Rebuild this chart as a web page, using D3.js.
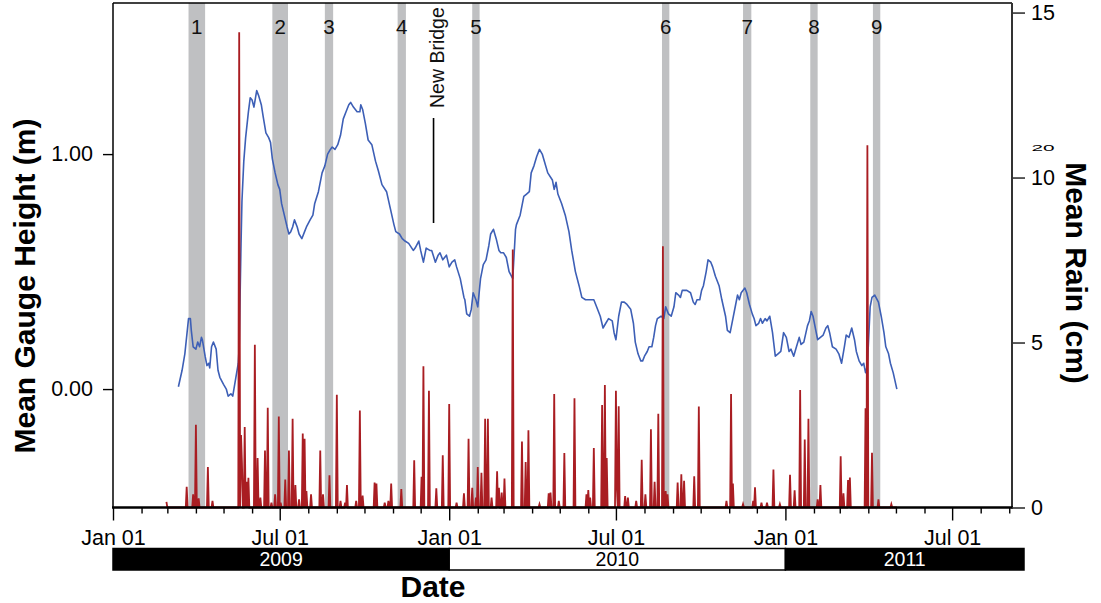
<!DOCTYPE html>
<html><head><meta charset="utf-8">
<script src="https://cdn.jsdelivr.net/npm/d3@7"></script>
<style>body{margin:0;background:#fff}svg{display:block}text{font-family:"Liberation Sans",Arial,Helvetica,sans-serif}</style>
</head><body><svg id="c" width="1101" height="603"></svg>
<script>
// ---------- data ----------
const startDate = "2009-01-01";
const endDate = "2011-09-04";
// gauge height: [days since 2009-01-01, metres]
const gauge = [
[71,0.01],[75,0.08],[78,0.15],[82,0.30],[84,0.30],[85,0.25],[87,0.18],[90,0.17],[92,0.20],[94,0.18],
[96,0.22],[97,0.21],[100,0.14],[102,0.10],[104,0.11],[105,0.09],[107,0.18],[109,0.20],[112,0.17],[114,0.08],
[116,0.05],[120,0.02],[123,0.00],[125,-0.03],[128,-0.02],[130,-0.03],[133,0.04],[136,0.11],[137,0.18],[139,0.62],
[140,0.80],[142,0.97],[144,1.07],[147,1.18],[149,1.24],[151,1.23],[153,1.20],[156,1.27],[158,1.25],[161,1.21],
[163,1.16],[166,1.09],[169,1.07],[171,1.05],[173,0.98],[176,0.92],[179,0.87],[181,0.85],[183,0.79],[186,0.74],
[189,0.69],[191,0.66],[193,0.67],[195,0.69],[197,0.72],[200,0.69],[202,0.66],[205,0.64],[208,0.67],[210,0.69],
[214,0.72],[217,0.74],[219,0.79],[223,0.84],[227,0.92],[230,0.95],[233,1.00],[236,1.02],[238,1.03],[241,1.02],
[244,1.04],[247,1.08],[250,1.15],[253,1.18],[256,1.21],[258,1.22],[261,1.20],[265,1.18],[268,1.18],[269,1.21],
[271,1.19],[274,1.13],[277,1.06],[281,1.04],[285,0.97],[288,0.93],[292,0.87],[297,0.84],[301,0.77],[305,0.70],
[307,0.67],[311,0.66],[314,0.64],[317,0.63],[321,0.62],[326,0.59],[328,0.60],[332,0.63],[334,0.59],[337,0.54],
[340,0.60],[344,0.59],[346,0.59],[350,0.54],[353,0.57],[355,0.58],[358,0.55],[362,0.57],[365,0.52],[368,0.54],
[371,0.55],[373,0.52],[377,0.47],[381,0.39],[382,0.38],[384,0.32],[387,0.31],[389,0.34],[391,0.41],[394,0.38],
[396,0.35],[399,0.47],[402,0.53],[405,0.55],[408,0.61],[410,0.66],[413,0.68],[416,0.64],[419,0.59],[421,0.58],
[424,0.58],[427,0.56],[430,0.50],[434,0.47],[437,0.68],[438,0.70],[442,0.74],[446,0.82],[449,0.83],[452,0.84],
[454,0.92],[457,0.95],[460,0.99],[463,1.02],[466,1.00],[469,0.96],[472,0.92],[477,0.89],[479,0.85],[481,0.88],
[483,0.83],[487,0.79],[491,0.74],[495,0.67],[498,0.59],[502,0.50],[506,0.44],[509,0.39],[513,0.38],[518,0.38],
[522,0.38],[525,0.35],[529,0.31],[532,0.26],[535,0.28],[538,0.30],[542,0.29],[544,0.24],[546,0.21],[549,0.31],
[552,0.37],[555,0.37],[558,0.36],[562,0.34],[565,0.28],[567,0.20],[570,0.15],[573,0.12],[575,0.12],[577,0.14],
[580,0.16],[582,0.18],[585,0.18],[587,0.22],[589,0.27],[591,0.30],[595,0.31],[598,0.30],[600,0.35],[603,0.32],
[606,0.31],[609,0.35],[611,0.41],[614,0.40],[616,0.39],[618,0.42],[623,0.42],[627,0.41],[630,0.37],[632,0.36],
[634,0.38],[637,0.38],[639,0.42],[641,0.44],[644,0.50],[646,0.55],[649,0.54],[651,0.52],[654,0.48],[658,0.44],
[661,0.38],[665,0.31],[667,0.25],[670,0.24],[673,0.30],[676,0.36],[678,0.40],[680,0.38],[682,0.41],[686,0.43],
[688,0.41],[691,0.36],[694,0.32],[696,0.30],[698,0.27],[701,0.28],[703,0.30],[705,0.28],[708,0.30],[710,0.29],
[713,0.31],[716,0.24],[719,0.14],[722,0.15],[725,0.16],[728,0.24],[731,0.22],[734,0.16],[736,0.17],[739,0.14],
[742,0.18],[745,0.22],[747,0.19],[750,0.20],[754,0.27],[756,0.29],[758,0.33],[760,0.31],[763,0.25],[765,0.21],
[768,0.22],[771,0.23],[774,0.26],[776,0.27],[778,0.24],[781,0.18],[785,0.17],[788,0.15],[791,0.11],[794,0.18],
[796,0.23],[799,0.22],[802,0.26],[805,0.21],[807,0.16],[810,0.12],[813,0.10],[815,0.11],[817,0.07],[819,0.10],
[822,0.35],[824,0.39],[827,0.40],[831,0.37],[834,0.31],[837,0.24],[839,0.18],[842,0.15],[844,0.11],[847,0.07],
[851,0.00]
];
// rain: [days since 2009-01-01, cm]; other days in the record are 0
const rainEvents = [
[58,0.17],[80,0.63],[87,0.40],[90,2.51],[93,0.28],[103,1.23],[108,0.2],[137,14.4],[139,2.2],[140,1.34],
[143,2.44],[145,0.78],[147,0.9],[154,4.93],[157,1.5],[160,0.3],[165,1.73],[168,3.02],[172,0.15],[176,0.4],
[180,2.76],[182,0.15],[187,0.85],[191,1.73],[195,2.69],[198,0.68],[202,0.25],[206,2.24],[208,2.08],[210,0.5],
[215,0.4],[225,1.73],[228,0.4],[235,0.98],[243,3.42],[247,0.2],[252,0.15],[254,0.68],[264,0.2],[268,2.94],
[271,0.36],[284,0.76],[286,0.73],[295,0.15],[299,0.2],[302,0.73],[313,0.56],[327,1.43],[335,0.93],[337,4.28],
[343,3.54],[351,0.58],[358,1.58],[365,3.14],[373,0.15],[381,0.43],[386,2.08],[390,0.6],[394,0.3],[396,1.23],
[400,1.05],[404,2.69],[407,2.69],[411,0.3],[417,1.1],[419,0.6],[422,0.45],[425,0.88],[434,7.82],[444,2.0],
[448,1.38],[451,2.34],[463,0.1],[473,0.43],[475,0.45],[479,3.44],[484,0.2],[490,1.65],[501,3.31],[514,0.4],
[516,0.53],[518,0.3],[522,1.80],[531,3.11],[534,3.71],[536,1.5],[546,3.54],[547,0.6],[549,3.07],[556,0.35],
[559,0.3],[568,0.2],[574,1.45],[578,0.4],[584,2.37],[588,0.78],[592,2.84],[597,7.92],[600,0.5],[602,0.4],
[613,0.76],[617,1.01],[620,0.81],[631,0.95],[636,3.06],[666,0.2],[671,3.44],[673,0.73],[684,0.1],[695,0.2],
[697,0.61],[704,0.15],[710,0.15],[717,1.15],[724,0.1],[735,0.99],[740,0.52],[746,3.56],[751,2.06],[755,2.69],
[765,0.25],[768,0.68],[790,1.55],[793,0.43],[798,0.83],[800,0.91],[817,3.01],[819,10.98],[824,1.66],[831,0.25],
[845,0.1]
];
const rainFirstDay = 58, rainLastDay = 851;
const bandStart = ["2009-03-24","2009-06-23","2009-08-19","2009-11-06","2010-01-26","2010-08-20","2010-11-16","2011-01-28","2011-04-06"];
const bandEnd   = ["2009-04-11","2009-07-10","2009-08-28","2009-11-15","2010-02-03","2010-08-28","2010-11-25","2011-02-05","2011-04-14"];
const bandLabels = ["1","2","3","4","5","6","7","8","9"];
const newBridgeDate = "2009-12-15";
const newBridgeLabel = "New Bridge";
const gaugeTicks = [0, 1];
const rainTicks = [0, 5, 10, 15];
const years = ["2009","2010","2011"];
const yLeftTitle = "Mean Gauge Height (m)";
const yRightTitle = "Mean Rain (cm)";
const xTitle = "Date";

// ---------- setup ----------
const parse = d3.utcParse("%Y-%m-%d");
const t0 = parse(startDate);
const dayToDate = d => d3.utcDay.offset(t0, d);
const L = 113, R = 1012, T = 3, B = 507.5;
const svg = d3.select("#c");
const x = d3.scaleUtc().domain([t0, parse(endDate)]).range([L, R]);
const yG = d3.scaleLinear().domain([-0.504, 1.643]).range([B, T]);
const yR = d3.scaleLinear().domain([0, 15.29]).range([B, T]);

const BLUE = "#3d5fb6", RED = "#a91d22", GRAY = "#bfc0c2";
const FONT = '"Liberation Sans",Arial,sans-serif';

// bands
svg.append("g").selectAll("rect").data(bandStart).join("rect")
  .attr("x", (d,i) => x(parse(d)))
  .attr("width", (d,i) => x(parse(bandEnd[i])) - x(parse(d)))
  .attr("y", T).attr("height", B - T).attr("fill", GRAY);
svg.append("g").selectAll("text").data(bandLabels).join("text")
  .attr("x", (d,i) => (x(parse(bandStart[i])) + x(parse(bandEnd[i])))/2)
  .attr("y", 34).attr("text-anchor","middle").attr("font-size", 20.5).attr("fill","#111").text(d => d);

// new bridge
const nbx = x(parse(newBridgeDate));
svg.append("line").attr("x1", nbx).attr("x2", nbx).attr("y1", 118).attr("y2", 223)
  .attr("stroke","#000").attr("stroke-width", 1.6);
svg.append("text").attr("transform", `translate(${nbx+10},108) rotate(-90)`)
  .attr("font-size", 19.5).attr("fill","#111").text(newBridgeLabel);

// gauge line
const gLine = d3.line().x(d => x(dayToDate(d[0]))).y(d => yG(d[1]));
svg.append("path").datum(gauge).attr("d", gLine).attr("fill","none")
  .attr("stroke", BLUE).attr("stroke-width", 1.6).attr("stroke-linejoin","round");

// rain line (daily record)
const rainMap = new Map(rainEvents);
const rainDaily = d3.range(rainFirstDay, rainLastDay + 1).map(d => [d, rainMap.get(d) || 0]);
const rLine = d3.line().x(d => x(dayToDate(d[0]))).y(d => yR(d[1]));
svg.append("path").datum(rainDaily).attr("d", rLine).attr("fill","none")
  .attr("stroke", RED).attr("stroke-width", 1.8).attr("stroke-linejoin","miter");

// frame
svg.append("line").attr("x1", L).attr("x2", R).attr("y1", T).attr("y2", T).attr("stroke","#000").attr("stroke-width",1.5);
svg.append("line").attr("x1", L).attr("x2", L).attr("y1", T).attr("y2", B).attr("stroke","#000").attr("stroke-width",1.5);
svg.append("line").attr("x1", R).attr("x2", R).attr("y1", T).attr("y2", B+1).attr("stroke","#333").attr("stroke-width",2);

// x axis
const months = d3.utcMonth.range(x.domain()[0], x.domain()[1]);
const isMajor = d => d.getUTCMonth() % 6 === 0;
const fmt = d3.utcFormat("%b %d");
const xAxis = d3.axisBottom(x).tickValues(months).tickSize(6).tickPadding(0)
  .tickFormat(d => isMajor(d) ? fmt(d) : "");
const gx = svg.append("g").attr("transform", `translate(0,${B})`).call(xAxis);
gx.select(".domain").remove();
gx.append("line").attr("x1", L - 1).attr("x2", R + 1).attr("stroke","#000").attr("stroke-width", 2.4);
gx.selectAll(".tick line").attr("stroke","#000").attr("stroke-width",1.4)
  .attr("y2", d => isMajor(d) ? 13 : 6);
gx.selectAll(".tick text").attr("y", 22).attr("font-size", 21.5).attr("fill","#000").attr("font-family", FONT);

// left axis
const gl = svg.append("g").attr("transform", `translate(${L},0)`)
  .call(d3.axisLeft(yG).tickValues(gaugeTicks).tickFormat(d3.format(".2f")).tickSize(10).tickPadding(10));
gl.select(".domain").remove();
gl.selectAll(".tick line").attr("stroke","#000").attr("stroke-width",1.4);
gl.selectAll(".tick text").attr("font-size", 21.5).attr("fill","#000").attr("font-family", FONT);

// right axis
const gr = svg.append("g").attr("transform", `translate(${R},0)`)
  .call(d3.axisRight(yR).tickValues(rainTicks).tickSize(13).tickPadding(6));
gr.select(".domain").remove();
gr.selectAll(".tick line").attr("stroke","#333").attr("stroke-width",1.6);
gr.selectAll(".tick text").attr("font-size", 21.5).attr("fill","#000").attr("font-family", FONT);

// stray small "20" label
svg.append("text").attr("transform","translate(1043,151) scale(1.3,0.62)")
  .attr("text-anchor","middle").attr("font-size",16).attr("fill","#000").text("20");

// year bar
const barEnd = R + 12;
const yb = svg.append("g");
years.forEach((yr, i) => {
  const a = x(parse(yr + "-01-01"));
  const b = Math.min(barEnd, x(parse((+yr + 1) + "-01-01")));
  const dark = i % 2 === 0;
  yb.append("rect").attr("x", a).attr("y", 548.5).attr("width", b - a).attr("height", 21.5)
    .attr("fill", dark ? "#000" : "#fff").attr("stroke", "#000").attr("stroke-width", 1.5);
  yb.append("text").attr("x", (a + b) / 2).attr("y", 566).attr("text-anchor","middle")
    .attr("font-size", 19.5).attr("fill", dark ? "#fff" : "#000").text(yr);
});

// titles
svg.append("text").attr("x", 433).attr("y", 597).attr("text-anchor","middle")
  .attr("font-size", 30).attr("font-weight","bold").text(xTitle);
svg.append("text").attr("transform", "translate(35,286) rotate(-90)").attr("text-anchor","middle")
  .attr("font-size", 30).attr("font-weight","bold").text(yLeftTitle);
svg.append("text").attr("transform", "translate(1066,273) rotate(90)").attr("text-anchor","middle")
  .attr("font-size", 30).attr("font-weight","bold").text(yRightTitle);
</script>
</body></html>
